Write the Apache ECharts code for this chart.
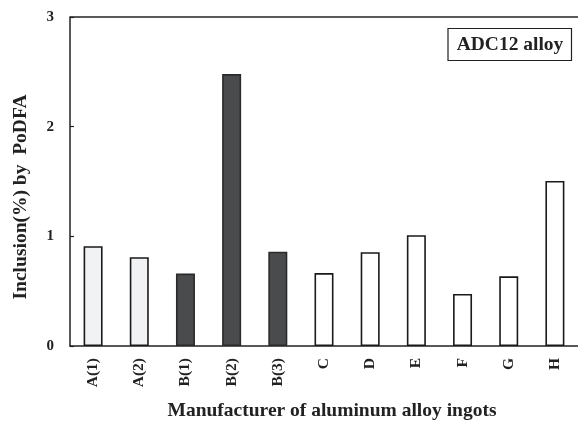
<!DOCTYPE html>
<html><head><meta charset="utf-8">
<script src="https://cdn.jsdelivr.net/npm/echarts@6/dist/echarts.min.js"></script>
<style>html,body{margin:0;padding:0;background:#fff}#c{width:578px;height:423px}</style>
</head><body><div id="c"></div>
<script>
var categories = ['A(1)','A(2)','B(1)','B(2)','B(3)','C','D','E','F','G','H'];
var values = [0.91, 0.81, 0.66, 2.48, 0.86, 0.665, 0.855, 1.01, 0.475, 0.635, 1.505];
var groups = ['A','A','B','B','B','O','O','O','O','O','O'];
var yTicks = [0, 1, 2, 3];

var fills = {A: '#f1f2f4', B: '#4a4b4d', O: '#ffffff'};
var strokes = {A: '#1a1a1a', B: '#2a2a2a', O: '#1a1a1a'};
var font = '"Liberation Serif","DejaVu Serif",serif';

var chart = echarts.init(document.getElementById('c'), null, {renderer: 'canvas'});
chart.setOption({
  animation: false,
  grid: {left: 70, top: 17, width: 511.5, height: 329, show: false},
  xAxis: {
    type: 'category', data: categories,
    axisLine: {lineStyle: {color: '#222', width: 1.5}},
    axisTick: {show: false},
    axisLabel: {rotate: 90, margin: 12, color: '#222', fontFamily: font, fontWeight: 'bold', fontSize: 15.5}
  },
  yAxis: {
    type: 'value', min: yTicks[0], max: yTicks[yTicks.length - 1], interval: 1,
    axisLine: {show: true, lineStyle: {color: '#222', width: 1.5}},
    axisTick: {show: true, inside: true, length: 4, lineStyle: {color: '#222', width: 1.2}},
    splitLine: {show: false},
    axisLabel: {margin: 16, color: '#222', fontFamily: font, fontWeight: 'bold', fontSize: 15}
  },
  series: [{
    type: 'bar', barWidth: 19,
    data: values.map(function (v, i) {
      return {value: v, itemStyle: {color: fills[groups[i]], borderColor: strokes[groups[i]], borderWidth: 1.6}};
    })
  }],
  graphic: [
    {type: 'line', shape: {x1: 70, y1: 17, x2: 578, y2: 17}, style: {stroke: '#222', lineWidth: 1.5}},
    {type: 'text', x: 21, y: 197, rotation: Math.PI / 2, style: {text: 'Inclusion(%) by  PoDFA', x: 0, y: 0, textAlign: 'center', textVerticalAlign: 'middle', fill: '#222', font: 'bold 19.5px ' + font}},
    {type: 'text', style: {text: 'Manufacturer of aluminum alloy ingots', x: 332, y: 411, textAlign: 'center', textVerticalAlign: 'middle', fill: '#222', font: 'bold 19.5px ' + font}},
    {type: 'rect', shape: {x: 448, y: 28.5, width: 123.5, height: 32}, style: {fill: '#fff', stroke: '#222', lineWidth: 1.2}},
    {type: 'text', style: {text: 'ADC12 alloy', x: 510, y: 44.5, textAlign: 'center', textVerticalAlign: 'middle', fill: '#222', font: 'bold 19.5px ' + font}}
  ]
});
</script></body></html>
